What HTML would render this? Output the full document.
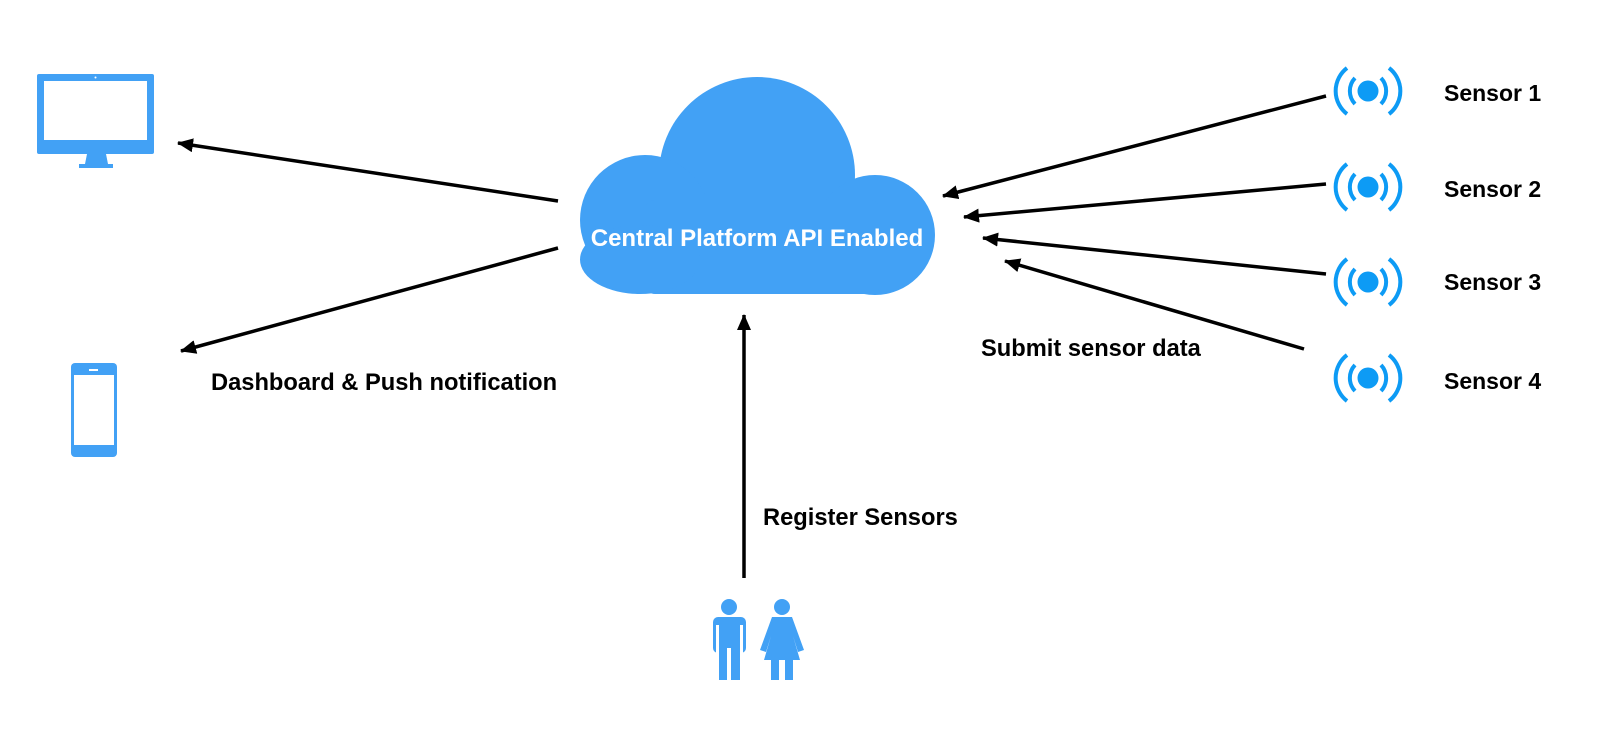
<!DOCTYPE html>
<html><head><style>
body{margin:0;background:#fff;width:1620px;height:750px;overflow:hidden;font-family:"Liberation Sans",sans-serif;}
</style></head><body>
<svg width="1620" height="750" viewBox="0 0 1620 750" xmlns="http://www.w3.org/2000/svg">
<defs>
<marker id="b" markerWidth="16" markerHeight="14" refX="15" refY="7" orient="auto" markerUnits="userSpaceOnUse"><path d="M0,0 L16,7 L0,14 Z" fill="#000"/></marker></defs>
<g fill="#42a1f5">
<circle cx="757" cy="175" r="98"/>
<circle cx="645" cy="220" r="65"/>
<circle cx="875" cy="235" r="60"/>
<rect x="645" y="200" width="235" height="94" rx="10"/>
<rect x="580" y="225" width="120" height="69" rx="60"/>
</g>
<text x="757" y="246" text-anchor="middle" fill="#fff" font-weight="bold" font-size="24">Central Platform API Enabled</text>
<g stroke="#000" stroke-width="3.5" fill="none" marker-end="url(#b)">
<line x1="558" y1="201" x2="178" y2="143"/>
<line x1="558" y1="248" x2="181" y2="351"/>
<line x1="1326" y1="96" x2="943" y2="196"/>
<line x1="1326" y1="184" x2="964" y2="217"/>
<line x1="1326" y1="274" x2="983" y2="238"/>
<line x1="1304" y1="349" x2="1005" y2="261"/>
<line x1="744" y1="578" x2="744" y2="315"/>
</g>
<g font-weight="bold" font-size="23.7" fill="#000">
<text x="211" y="390">Dashboard &amp; Push notification</text>
<text x="981" y="356">Submit sensor data</text>
<text x="763" y="525">Register Sensors</text>
</g>
<g font-weight="bold" font-size="23" fill="#000">
<text x="1444" y="101">Sensor 1</text>
<text x="1444" y="197">Sensor 2</text>
<text x="1444" y="290">Sensor 3</text>
<text x="1444" y="389">Sensor 4</text>
</g>
<g fill="#42a1f5">
<rect x="37" y="74" width="117" height="80" rx="2"/>
<path d="M87,154 L106,154 L108,164 L85,164 Z"/>
<rect x="79" y="164" width="34" height="4"/>
</g>
<rect x="44" y="81" width="103" height="59" fill="#fff"/>
<circle cx="95.5" cy="77.5" r="1" fill="#fff"/>
<rect x="71" y="363" width="46" height="94" rx="4" fill="#42a1f5"/>
<rect x="74" y="375" width="40" height="70" fill="#fff"/>
<rect x="89" y="369" width="9" height="2" fill="#fff"/>
<g id="s" fill="none" stroke="#0d9bf5" stroke-width="4">
<circle cx="1368" cy="91" r="10.5" fill="#0d9bf5" stroke="none"/>
<path d="M1355,78 A19,19 0 0 0 1355,104"/><path d="M1381,78 A19,19 0 0 1 1381,104"/>
<path d="M1347,68 A29,29 0 0 0 1347,114"/><path d="M1389,68 A29,29 0 0 1 1389,114"/>
</g>
<use href="#s" y="96"/><use href="#s" y="191"/><use href="#s" y="287"/>
<g fill="#42a1f5">
<circle cx="729" cy="607" r="8"/>
<rect x="713" y="617" width="33" height="36" rx="5"/>
<rect x="719" y="640" width="21" height="40"/>
<circle cx="782" cy="607" r="8"/>
<path d="M772,617 L792,617 L804,650 L798,652 L793,636 L800,660 L764,660 L771,636 L766,652 L760,650 Z"/>
<rect x="771" y="655" width="8" height="25"/><rect x="785" y="655" width="8" height="25"/>
</g>
<rect x="727" y="648" width="4" height="32" fill="#fff"/>
<rect x="716" y="625" width="3" height="28" fill="#fff"/><rect x="740" y="625" width="3" height="28" fill="#fff"/>
</svg>
</body></html>
